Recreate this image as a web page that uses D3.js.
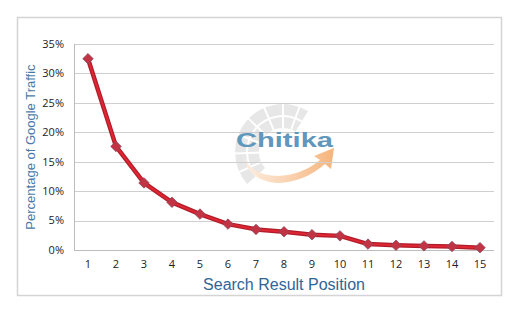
<!DOCTYPE html>
<html>
<head>
<meta charset="utf-8">
<script src="https://cdn.jsdelivr.net/npm/d3@7"></script>
<style>
  body { margin: 0; background: #fff; }
  svg { display: block; }
</style>
</head>
<body>
<div id="chart"></div>
<script>
var positions = [1, 2, 3, 4, 5, 6, 7, 8, 9, 10, 11, 12, 13, 14, 15];
var traffic = [32.5, 17.6, 11.4, 8.1, 6.1, 4.4, 3.5, 3.1, 2.6, 2.4, 1.0, 0.8, 0.7, 0.6, 0.4];
var yTicks = [0, 5, 10, 15, 20, 25, 30, 35];

var width = 524;
var height = 331;
var margin = {left: 74, right: 30, top: 44, bottom: 81};

var svg = d3.select('#chart')
  .append('svg')
  .attr('width', width)
  .attr('height', height);

var defs = svg.append('defs');
var grad = defs.append('linearGradient').attr('id', 'orange');
grad.append('stop').attr('offset', '0%').attr('stop-color', '#fdebdc');
grad.append('stop').attr('offset', '100%').attr('stop-color', '#f4a35c');

// frame
svg.append('rect')
  .attr('x', 17.5).attr('y', 17.5)
  .attr('width', 484).attr('height', 278)
  .attr('fill', '#fff')
  .attr('stroke', '#d4d4d4')
  .attr('stroke-width', 1.5);

var x = d3.scaleBand()
  .domain(positions)
  .range([margin.left, width - margin.right]);

var y = d3.scaleLinear()
  .domain([0, 35])
  .range([height - margin.bottom, margin.top]);

// watermark logo (behind gridlines)
var logo = svg.append('g').attr('opacity', 0.8);
var cx = 283, cy = 152;
logo.append('path')
  .attr('d', d3.arc()({innerRadius: 24, outerRadius: 48, startAngle: -2.3, endAngle: 0.55}))
  .attr('transform', 'translate(' + cx + ',' + cy + ')')
  .attr('fill', '#e2e2e2');
logo.append('path')
  .attr('d', d3.arc()({innerRadius: 35, outerRadius: 37, startAngle: -2.3, endAngle: 0.55}))
  .attr('transform', 'translate(' + cx + ',' + cy + ')')
  .attr('fill', '#fff');
[-2.0, -1.6, -1.2, -0.8, -0.4, 0.0, 0.35].forEach(function(a) {
  logo.append('line')
    .attr('x1', cx + 24 * Math.sin(a)).attr('y1', cy - 24 * Math.cos(a))
    .attr('x2', cx + 49 * Math.sin(a)).attr('y2', cy - 49 * Math.cos(a))
    .attr('stroke', '#fff')
    .attr('stroke-width', 2);
});
logo.append('path')
  .attr('d', 'M243,155 Q251,176 278,176 Q302,175 320,160 L314,156 L334,148 L331,169 L325,164 Q303,183 276,183 Q249,181 243,155 Z')
  .attr('fill', 'url(#orange)');

// gridlines
svg.append('g')
  .selectAll('line')
  .data(yTicks)
  .enter()
  .append('line')
  .attr('x1', margin.left)
  .attr('x2', width - margin.right)
  .attr('y1', function(d) { return Math.round(y(d)) + 0.5; })
  .attr('y2', function(d) { return Math.round(y(d)) + 0.5; })
  .attr('stroke', function(d) { return d === 0 ? '#bcbcbc' : '#cfcfcf'; })
  .attr('stroke-width', 1);

svg.append('line')
  .attr('x1', margin.left + 0.5).attr('x2', margin.left + 0.5)
  .attr('y1', y(35)).attr('y2', y(0))
  .attr('stroke', '#bcbcbc');

svg.append('text')
  .attr('x', 236).attr('y', 147)
  .attr('textLength', 97)
  .attr('lengthAdjust', 'spacingAndGlyphs')
  .attr('font-family', 'Liberation Sans, Arial, sans-serif')
  .attr('font-weight', 'bold')
  .attr('font-size', 21)
  .attr('fill', '#6097bd')
  .text('Chitika');

// y tick labels
svg.append('g')
  .selectAll('text')
  .data(yTicks)
  .enter()
  .append('text')
  .attr('x', margin.left - 10)
  .attr('y', function(d) { return y(d); })
  .attr('dy', '0.35em')
  .attr('text-anchor', 'end')
  .attr('font-family', 'Open Sans, sans-serif')
  .attr('font-size', 11)
  .attr('fill', '#222')
  .text(function(d) { return d + '%'; });

// x tick labels
svg.append('g')
  .selectAll('text')
  .data(positions)
  .enter()
  .append('text')
  .attr('x', function(d) { return x(d) + x.bandwidth() / 2; })
  .attr('y', y(0) + 18)
  .attr('text-anchor', 'middle')
  .attr('font-family', 'Open Sans, sans-serif')
  .attr('font-size', 11)
  .attr('fill', '#222')
  .text(function(d) { return d; });

// axis titles
svg.append('text')
  .attr('x', (margin.left + width - margin.right) / 2)
  .attr('y', 290)
  .attr('text-anchor', 'middle')
  .attr('font-family', 'Liberation Sans, Arial, sans-serif')
  .attr('font-size', 16)
  .attr('fill', '#2f6597')
  .text('Search Result Position');

svg.append('text')
  .attr('transform', 'translate(35,' + ((y(0) + y(35)) / 2) + ') rotate(-90)')
  .attr('text-anchor', 'middle')
  .attr('font-family', 'Liberation Sans, Arial, sans-serif')
  .attr('font-size', 13)
  .attr('fill', '#4a79a6')
  .text('Percentage of Google Traffic');

// line
var line = d3.line()
  .x(function(d, i) { return x(positions[i]) + x.bandwidth() / 2; })
  .y(function(d) { return y(d); });

svg.append('path')
  .datum(traffic)
  .attr('d', line)
  .attr('fill', 'none')
  .attr('stroke', '#b01d2a')
  .attr('stroke-width', 4.5)
  .attr('stroke-linejoin', 'round');

svg.append('path')
  .datum(traffic)
  .attr('d', line)
  .attr('fill', 'none')
  .attr('stroke', '#e02634')
  .attr('stroke-width', 2)
  .attr('stroke-linejoin', 'round');

var diamond = d3.symbol().type(d3.symbolDiamond2).size(70);

svg.append('g')
  .selectAll('path')
  .data(traffic)
  .enter()
  .append('path')
  .attr('d', diamond)
  .attr('transform', function(d, i) {
    return 'translate(' + (x(positions[i]) + x.bandwidth() / 2) + ',' + y(d) + ')';
  })
  .attr('fill', '#c23343')
  .attr('stroke', '#8a4a62')
  .attr('stroke-width', 0.8);
</script>
</body>
</html>
